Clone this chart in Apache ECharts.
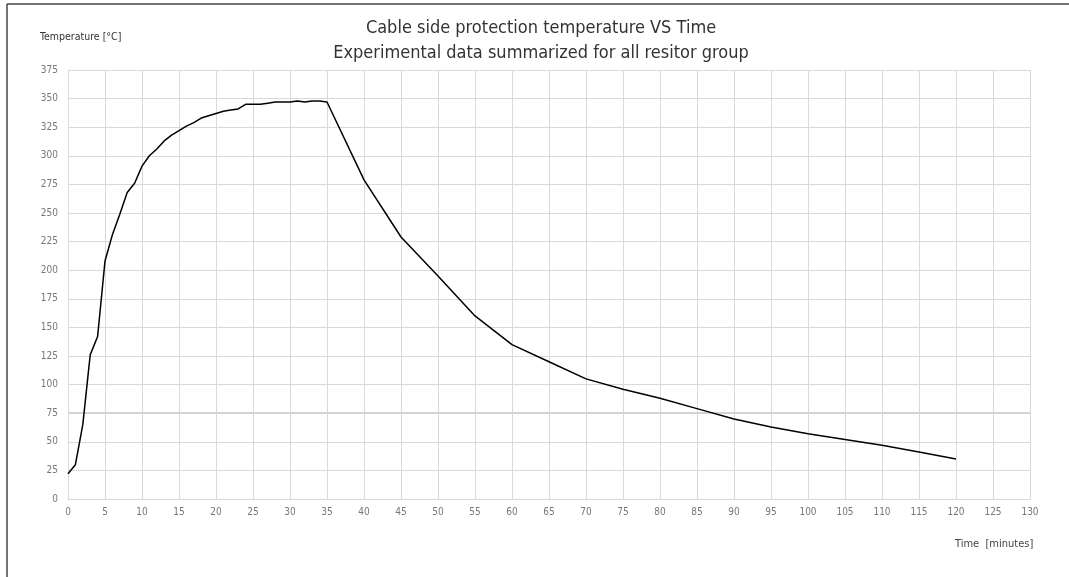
<!DOCTYPE html>
<html>
<head>
<meta charset="utf-8">
<script src="https://cdn.jsdelivr.net/npm/echarts@6/dist/echarts.min.js"></script>
<style>html,body{margin:0;padding:0;background:#fff;}#c{width:1069px;height:577px;}</style>
</head>
<body>
<div id="c"></div>
<script>
var titleLines = ['Cable side protection temperature VS Time', 'Experimental data summarized for all resitor group'];
var yName = 'Temperature [°C]';
var xName = 'Time  [minutes]';
var times = [0,1,2,3,4,5,6,7,8,9,10,11,12,13,14,15,16,17,18,19,20,21,22,23,24,25,26,27,28,29,30,31,32,33,34,35,40,45,50,55,60,65,70,75,80,85,90,95,100,105,110,115,120];
var temps = [22,30,65,126,142,208,231,249,268,276,291,300,306,313,318,322,326,329,333,335,337,339,340,341,345,345,345,346,347,347,347,348,347,348,348,347,279,229,195,160,135,120,105,96,88,79,70,63,57,52,47,41,35];
var xTicks = {min: 0, max: 130, interval: 5};
var yTicks = {min: 0, max: 375, interval: 25};
var emphasisLevel = 75;

var data = times.map(function (t, i) { return [t, temps[i]]; });
var font = "'Liberation Sans Narrow', 'DejaVu Sans Condensed', 'Noto Sans', sans-serif";
var chart = echarts.init(document.getElementById('c'), null, {renderer: 'canvas'});
chart.setOption({
  animation: false,
  backgroundColor: '#ffffff',
  title: {
    text: titleLines.join('\n'),
    left: 536,
    textAlign: 'center',
    top: 11,
    textStyle: {fontFamily: font, fontSize: 18, fontWeight: 'normal', color: '#333', lineHeight: 25}
  },
  grid: {left: 68, right: 39, top: 70, bottom: 78, containLabel: false},
  xAxis: {
    type: 'value', min: xTicks.min, max: xTicks.max, interval: xTicks.interval,
    axisLine: {show: true, lineStyle: {color: '#d9d9d9'}},
    axisTick: {show: false},
    axisLabel: {color: '#777', fontSize: 10, fontFamily: font, margin: 8},
    splitLine: {show: true, lineStyle: {color: '#d9d9d9', width: 1}}
  },
  yAxis: {
    type: 'value', min: yTicks.min, max: yTicks.max, interval: yTicks.interval,
    axisLine: {show: true, lineStyle: {color: '#d9d9d9'}},
    axisTick: {show: false},
    axisLabel: {color: '#777', fontSize: 10, fontFamily: font, margin: 10},
    splitLine: {show: true, lineStyle: {color: '#d9d9d9', width: 1}}
  },
  graphic: [
    {type: 'line', shape: {x1: 7, y1: 4, x2: 1069, y2: 4}, style: {stroke: '#444', lineWidth: 1.5}},
    {type: 'line', shape: {x1: 7, y1: 4, x2: 7, y2: 577}, style: {stroke: '#444', lineWidth: 1.5}},
    {type: 'text', left: 40, top: 32, style: {text: yName, fontSize: 10.5, fontFamily: font, fill: '#333'}},
    {type: 'text', left: 955, top: 539, style: {text: xName, fontSize: 11, fontFamily: font, fill: '#444'}}
  ],
  series: [{
    type: 'line',
    data: [],
    z: 1,
    markLine: {
      silent: true, symbol: 'none', label: {show: false},
      lineStyle: {color: '#d4d4d4', width: 2, type: 'solid'},
      data: [{yAxis: emphasisLevel}]
    }
  }, {
    type: 'line',
    data: data,
    showSymbol: false,
    symbol: 'none',
    smooth: false,
    lineStyle: {color: '#000', width: 1.5},
    z: 5
  }]
});
</script>
</body>
</html>
